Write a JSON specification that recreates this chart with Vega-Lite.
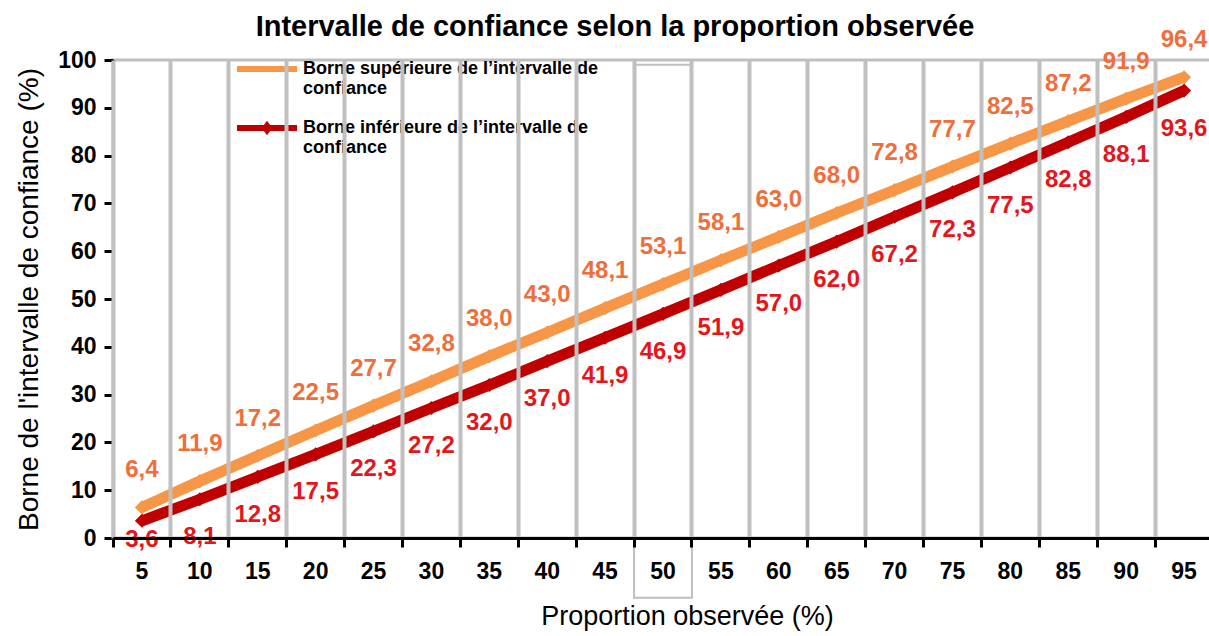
{
  "$schema": "https://vega.github.io/schema/vega-lite/v6.json",
  "autosize": "none",
  "width": 1100,
  "height": 478,
  "padding": {"left": 113, "top": 60, "right": 0, "bottom": 98},
  "background": "white",
  "config": {
    "font": "Liberation Sans",
    "locale": {"number": {"decimal": ",", "thousands": " ", "grouping": [3], "currency": ["", " €"]}},
    "view": {"stroke": "#BFBFBF", "strokeWidth": 3}
  },
  "title": {
    "text": "Intervalle de confiance selon la proportion observée",
    "font": "Liberation Sans",
    "fontSize": 29,
    "fontWeight": "bold",
    "color": "black",
    "anchor": "middle",
    "dx": -48,
    "offset": 0,
    "dy": 14
  },
  "data": {
    "values": [
      {"p": 5, "borne": "sup", "v": 6.4}, {"p": 5, "borne": "inf", "v": 3.6},
      {"p": 10, "borne": "sup", "v": 11.9}, {"p": 10, "borne": "inf", "v": 8.1},
      {"p": 15, "borne": "sup", "v": 17.2}, {"p": 15, "borne": "inf", "v": 12.8},
      {"p": 20, "borne": "sup", "v": 22.5}, {"p": 20, "borne": "inf", "v": 17.5},
      {"p": 25, "borne": "sup", "v": 27.7}, {"p": 25, "borne": "inf", "v": 22.3},
      {"p": 30, "borne": "sup", "v": 32.8}, {"p": 30, "borne": "inf", "v": 27.2},
      {"p": 35, "borne": "sup", "v": 38.0}, {"p": 35, "borne": "inf", "v": 32.0},
      {"p": 40, "borne": "sup", "v": 43.0}, {"p": 40, "borne": "inf", "v": 37.0},
      {"p": 45, "borne": "sup", "v": 48.1}, {"p": 45, "borne": "inf", "v": 41.9},
      {"p": 50, "borne": "sup", "v": 53.1}, {"p": 50, "borne": "inf", "v": 46.9},
      {"p": 55, "borne": "sup", "v": 58.1}, {"p": 55, "borne": "inf", "v": 51.9},
      {"p": 60, "borne": "sup", "v": 63.0}, {"p": 60, "borne": "inf", "v": 57.0},
      {"p": 65, "borne": "sup", "v": 68.0}, {"p": 65, "borne": "inf", "v": 62.0},
      {"p": 70, "borne": "sup", "v": 72.8}, {"p": 70, "borne": "inf", "v": 67.2},
      {"p": 75, "borne": "sup", "v": 77.7}, {"p": 75, "borne": "inf", "v": 72.3},
      {"p": 80, "borne": "sup", "v": 82.5}, {"p": 80, "borne": "inf", "v": 77.5},
      {"p": 85, "borne": "sup", "v": 87.2}, {"p": 85, "borne": "inf", "v": 82.8},
      {"p": 90, "borne": "sup", "v": 91.9}, {"p": 90, "borne": "inf", "v": 88.1},
      {"p": 95, "borne": "sup", "v": 96.4}, {"p": 95, "borne": "inf", "v": 93.6}
    ]
  },
  "encoding": {
    "x": {
      "field": "p",
      "type": "ordinal",
      "sort": "ascending",
      "scale": {"paddingInner": 0, "paddingOuter": 0},
      "axis": {
        "title": "Proportion observée (%)",
        "titleFont": "Liberation Sans",
        "titleFontSize": 27,
        "titleFontWeight": "normal",
        "titleColor": "black",
        "titleX": 574,
        "titlePadding": 20,
        "labelAngle": 0,
        "labelFont": "Liberation Sans",
        "labelFontSize": 23,
        "labelFontWeight": "bold",
        "labelColor": "black",
        "labelPadding": 13,
        "bandPosition": 0,
        "grid": true,
        "gridColor": "#C0C0C0",
        "gridWidth": 4,
        "ticks": true,
        "tickColor": "black",
        "tickWidth": 3,
        "tickSize": 9,
        "domainColor": "black",
        "domainWidth": 3
      }
    },
    "y": {
      "field": "v",
      "type": "quantitative",
      "scale": {"domain": [0, 100], "nice": false, "zero": true},
      "axis": {
        "title": "Borne de l'intervalle de confiance (%)",
        "titleFont": "Liberation Sans",
        "titleFontSize": 28,
        "titleFontWeight": "normal",
        "titleColor": "black",
        "titlePadding": 14,
        "values": [0, 10, 20, 30, 40, 50, 60, 70, 80, 90, 100],
        "labelFont": "Liberation Sans",
        "labelFontSize": 23,
        "labelFontWeight": "bold",
        "labelColor": "black",
        "labelPadding": 8,
        "grid": false,
        "tickColor": "black",
        "tickWidth": 3,
        "tickSize": 9,
        "domainColor": "black",
        "domainWidth": 3
      }
    }
  },
  "layer": [
    {
      "transform": [{"filter": "datum.p == 50 && datum.borne == 'sup'"}],
      "mark": {"type": "rect", "fill": null, "stroke": "#BFBFBF", "strokeWidth": 2, "clip": false},
      "encoding": {
        "y": {"datum": 99},
        "y2": {"datum": -12.5}
      }
    },
    {
      "mark": {"type": "line", "strokeWidth": 11, "strokeJoin": "round"},
      "encoding": {
        "color": {
          "field": "borne",
          "type": "nominal",
          "scale": {"domain": ["sup", "inf"], "range": ["#F79646", "#C00000"]},
          "legend": {
            "title": null,
            "orient": "none",
            "legendX": 124,
            "legendY": -21,
            "padding": 0,
            "symbolType": "stroke",
            "symbolSize": 3600,
            "symbolStrokeWidth": 6,
            "labelFont": "Liberation Sans",
            "labelFontSize": 18,
            "labelFontWeight": "bold",
            "labelColor": "black",
            "labelLimit": 500,
            "labelOffset": 6,
            "labelLineHeight": 21,
            "rowPadding": -14,
            "labelExpr": "datum.value == 'sup' ? ['Borne supérieure de l’intervalle de', 'confiance'] : ['Borne inférieure de l’intervalle de', 'confiance']",
            "encode": {
              "symbols": {
                "update": {
                  "shape": {"signal": "datum.value == 'inf' ? 'M-1,-0.1L1,-0.1L1,0.1L-1,0.1Z M0,-0.24L0.18,0L0,0.24L-0.18,0Z' : 'M-1,-0.1L1,-0.1L1,0.1L-1,0.1Z'"},
                  "fill": {"signal": "datum.value == 'inf' ? '#C00000' : '#F79646'"},
                  "strokeWidth": {"value": 0},
                  "opacity": {"value": 1}
                }
              }
            }
          }
        }
      }
    },
    {
      "mark": {"type": "point", "shape": "diamond", "filled": true, "size": 200, "opacity": 1},
      "encoding": {
        "color": {"field": "borne", "type": "nominal", "legend": null}
      }
    },
    {
      "transform": [{"filter": "datum.borne == 'sup'"}],
      "mark": {"type": "text", "dy": -37, "fontSize": 24, "fontWeight": "bold", "font": "Liberation Sans", "color": "#EE6E3C", "baseline": "middle"},
      "encoding": {"text": {"field": "v", "type": "quantitative", "format": ".1f"}}
    },
    {
      "transform": [{"filter": "datum.borne == 'inf' && datum.p != 5"}],
      "mark": {"type": "text", "dy": 38, "fontSize": 24, "fontWeight": "bold", "font": "Liberation Sans", "color": "#E3161C", "baseline": "middle"},
      "encoding": {"text": {"field": "v", "type": "quantitative", "format": ".1f"}}
    },
    {
      "transform": [{"filter": "datum.borne == 'inf' && datum.p == 5"}],
      "mark": {"type": "text", "dy": 19, "fontSize": 24, "fontWeight": "bold", "font": "Liberation Sans", "color": "#E3161C", "baseline": "middle"},
      "encoding": {"text": {"field": "v", "type": "quantitative", "format": ".1f"}}
    }
  ]
}
